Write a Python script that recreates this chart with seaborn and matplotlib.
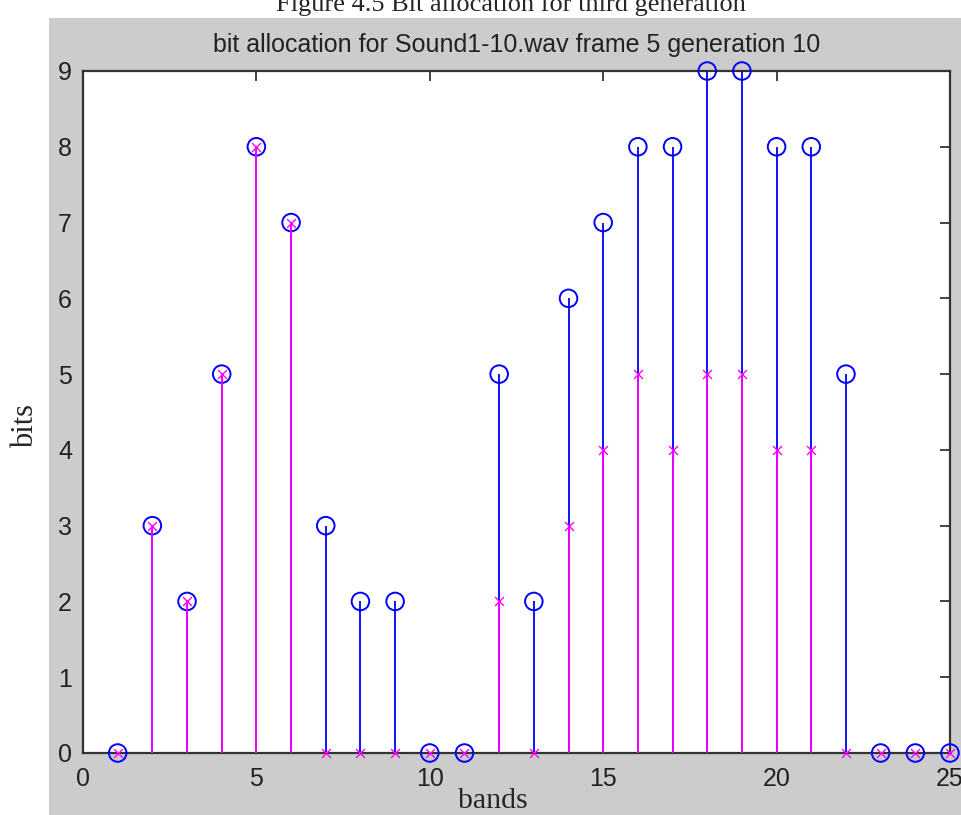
import numpy as np
import pandas as pd
import matplotlib
matplotlib.use("Agg")
import matplotlib.pyplot as plt
import seaborn as sns

# Bits assigned per band: allocation (o) and the reference allocation (x)
bands = list(range(1, 26))
bits_alloc = [0, 3, 2, 5, 8, 7, 3, 2, 2, 0, 0, 5, 2, 6, 7, 8, 8, 9, 9, 8, 8, 5, 0, 0, 0]
bits_ref = [0, 3, 2, 5, 8, 7, 0, 0, 0, 0, 0, 2, 0, 3, 4, 5, 4, 5, 5, 4, 4, 0, 0, 0, 0]
x_ticks = [0, 5, 10, 15, 20, 25]
y_ticks = list(range(0, 10))

df = pd.DataFrame({"band": bands, "alloc": bits_alloc, "ref": bits_ref})

sns.set_style("white")
plt.rcParams["font.family"] = ["Liberation Sans", "DejaVu Sans"]

W, H = 962, 815
fig = plt.figure(figsize=(W / 100, H / 100), dpi=100, facecolor="white")

# grey figure panel behind the axes
fig.patches.append(plt.Rectangle((49 / W, 0), 1 - 49 / W, 1 - 18 / H,
                                 transform=fig.transFigure, facecolor="#cccccc",
                                 edgecolor="none", zorder=-10))

ax = fig.add_axes([83 / W, 1 - 753 / H, (950 - 83) / W, (753 - 71) / H])
ax.set_facecolor("white")

blue = (0, 0, 1)
mag = (1, 0, 1)

# stems for the allocation
ax.vlines(df["band"], 0, df["alloc"], colors=[blue], linewidth=1.3, zorder=2)
sns.scatterplot(data=df, x="band", y="alloc", ax=ax, marker="o", s=160,
                facecolors="none", edgecolor=blue, linewidth=1.4, zorder=3,
                legend=False, clip_on=False)
# stems for the reference allocation
ax.vlines(df["band"], 0, df["ref"], colors=[mag], linewidth=1.3, zorder=4)
sns.scatterplot(data=df, x="band", y="ref", ax=ax, marker="x", s=40,
                color=mag, linewidth=1.0, zorder=5, legend=False, clip_on=False)

ax.set_xlim(0, 25)
ax.set_ylim(0, 9)
ax.set_xticks(x_ticks)
ax.set_yticks(y_ticks)
ax.tick_params(direction="in", length=7, width=1.2, colors="#222222",
               labelsize=18, top=True, right=True)
ax.tick_params(axis="x", pad=10)
ax.tick_params(axis="y", pad=8)
for lab in ax.get_xticklabels() + ax.get_yticklabels():
    lab.set_color("#222222")
for s in ax.spines.values():
    s.set_visible(True)
    s.set_color("#333333")
    s.set_linewidth(1.6)
    s.set_zorder(1)

ax.set_xlabel("")
ax.set_ylabel("")
ax.set_title("bit allocation for Sound1-10.wav frame 5 generation 10",
             fontsize=18, color="#222222", pad=14)

serif = ["Liberation Serif", "DejaVu Serif"]
fig.text(493 / W, 1 - 801 / H, "bands", family=serif, fontsize=21.5,
         ha="center", va="center")
fig.text(26 / W, 1 - 426 / H, "bits", family=serif, fontsize=22,
         rotation=90, ha="center", va="center")
fig.text(511 / W, 1 - 11 / H, "Figure 4.5 Bit allocation for third generation",
         family=serif, fontsize=19, ha="center", va="baseline")

fig.savefig("out.png", dpi=100, facecolor="white")
